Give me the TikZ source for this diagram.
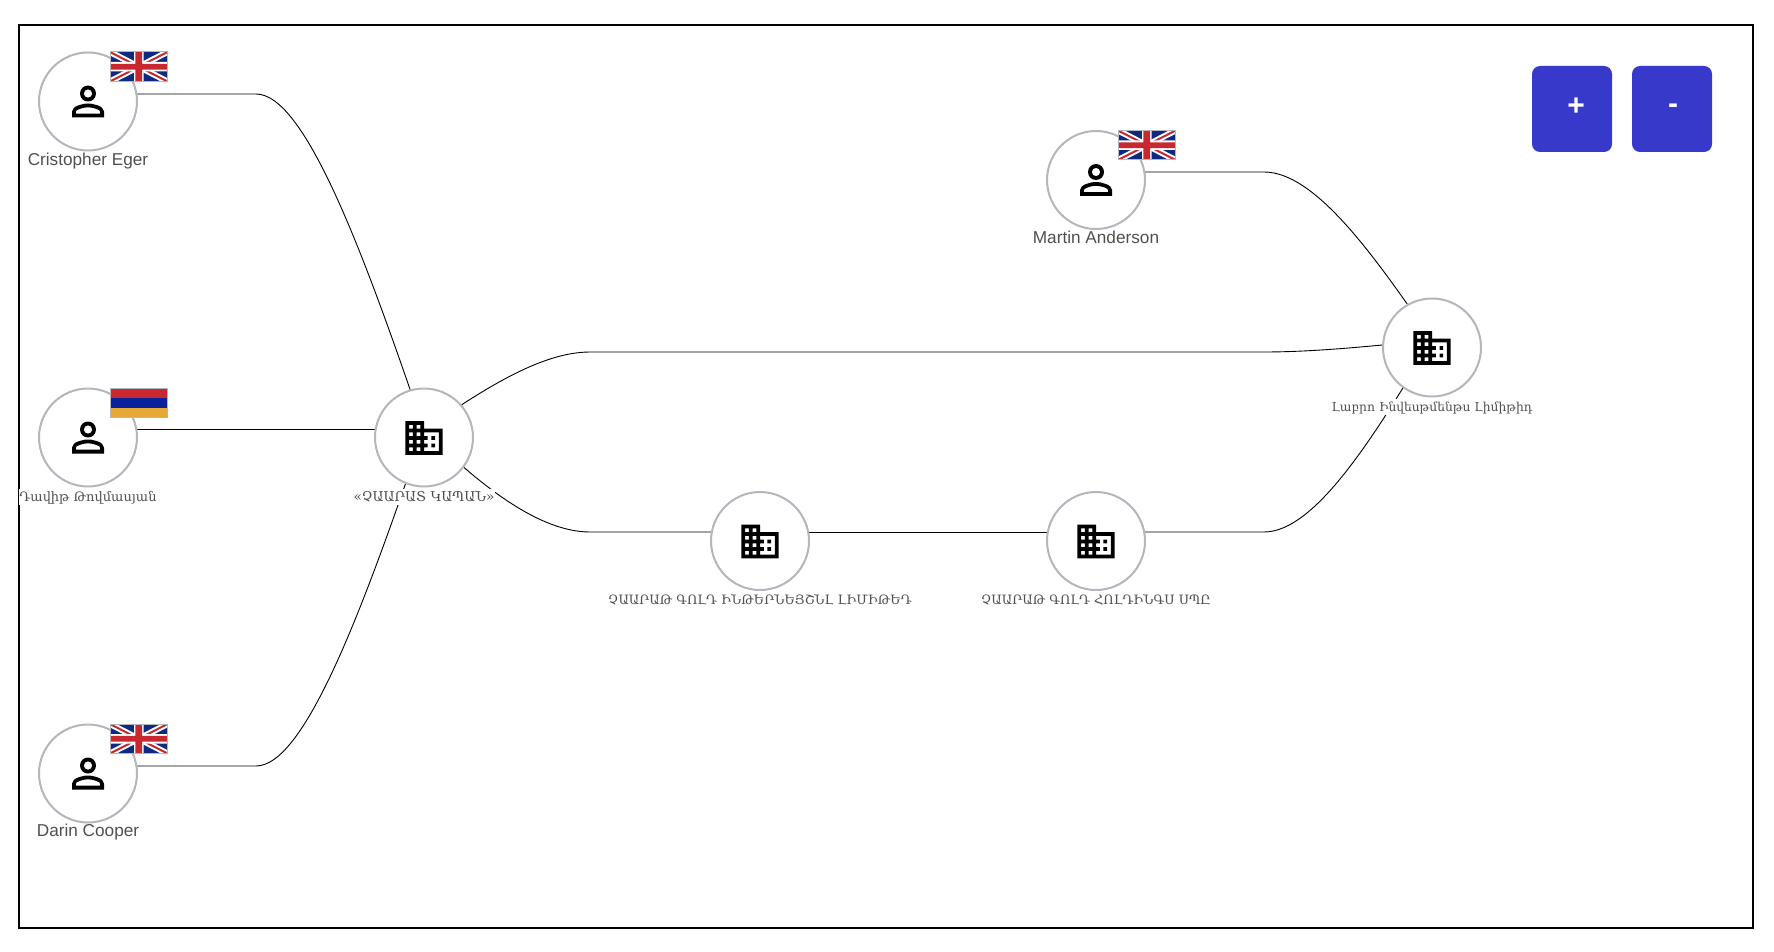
\documentclass[tikz,border=0pt]{standalone}
\usepackage{fontspec}
\setmainfont{Liberation Sans}
\newfontfamily\hyfont{DejaVu Serif}
\usetikzlibrary{backgrounds}
\definecolor{ringgray}{HTML}{B5B5BD}
\definecolor{btnblue}{HTML}{3639C9}
\definecolor{labelgray}{HTML}{505050}
\definecolor{ukblue}{HTML}{0B2A80}
\definecolor{ukred}{HTML}{C8282F}
\definecolor{amorange}{HTML}{E8A838}
\tikzset{
  x=1pt,y=-1pt,
  entity/.style={circle,draw=ringgray,line width=2pt,fill=white,minimum size=98pt,inner sep=0pt,outer sep=0pt},
  link/.style={draw=black,line width=0.9pt},
  lab/.style={fill=white,inner sep=0pt,text=labelgray,text height=12pt,text depth=4pt,anchor=center},
  latinlab/.style={lab,font=\fontsize{17.2}{20}\selectfont},
  hylab/.style={lab,font=\hyfont\fontsize{#1}{20}\selectfont},
  btn/.style={fill=btnblue,rounded corners=8pt,minimum width=80pt,minimum height=86pt,inner sep=0pt,text=white,font=\bfseries\fontsize{30}{30}\selectfont},
}
\newcommand{\personicon}[1]{%
  \begin{scope}[shift={(#1.center)},scale=2,shift={(-12,-12)}]
    \fill[black,even odd rule] (16,8) arc[start angle=0,end angle=360,radius=4] (14.1,8) arc[start angle=0,end angle=360,radius=2.1];
    \fill[black,even odd rule] (4,20) -- (4,17) .. controls (4,14.34) and (9.33,13) .. (12,13) .. controls (14.66,13) and (20,14.34) .. (20,17) -- (20,20) -- cycle
      (5.9,18.1) -- (5.9,17) .. controls (5.9,16.36) and (9.03,14.9) .. (12,14.9) .. controls (14.97,14.9) and (18.1,16.36) .. (18.1,17) -- (18.1,18.1) -- cycle;
  \end{scope}}
\newcommand{\buildingicon}[1]{%
  \begin{scope}[shift={(#1.center)},shift={(0,0.5)},scale=1.87,shift={(-12,-12)}]
    \fill[black,even odd rule] (2,3) -- (12,3) -- (12,7) -- (22,7) -- (22,21) -- (2,21) -- cycle
      (4,5) rectangle (6,7) (4,9) rectangle (6,11) (4,13) rectangle (6,15) (4,17) rectangle (6,19)
      (8,5) rectangle (10,7) (8,9) rectangle (10,11) (8,13) rectangle (10,15) (8,17) rectangle (10,19)
      (12,9) -- (20,9) -- (20,19) -- (12,19) -- (12,17) -- (14,17) -- (14,15) -- (12,15) -- (12,13) -- (14,13) -- (14,11) -- (12,11) -- cycle;
    \fill[black] (16,11) rectangle (18,13) (16,15) rectangle (18,17);
  \end{scope}}
\newcommand{\ukflag}[1]{%
  \begin{scope}[shift={(#1.center)},shift={(22,-49.5)}]
    \begin{scope}
      \clip (0,0) rectangle (57.5,29.5);
      \fill[ukblue] (0,0) rectangle (57.5,29.5);
      \draw[white,line width=6pt] (0,0) -- (57.5,29.5) (57.5,0) -- (0,29.5);
      \draw[ukred,line width=2pt] (0,0) -- (57.5,29.5) (57.5,0) -- (0,29.5);
      \fill[white] (24,0) rectangle (33.5,29.5) (0,10) rectangle (57.5,19.5);
      \fill[ukred] (25.3,0) rectangle (32.2,29.5) (0,11.8) rectangle (57.5,17.7);
    \end{scope}
    \draw[ringgray,line width=1pt] (0,0) rectangle (57.5,29.5);
  \end{scope}}
\newcommand{\amflag}[1]{%
  \begin{scope}[shift={(#1.center)},shift={(22,-49.5)}]
    \fill[ukred] (0,0) rectangle (57.5,10);
    \fill[ukblue!80!blue] (0,10) rectangle (57.5,19.7);
    \fill[amorange] (0,19.7) rectangle (57.5,29.5);
    \draw[ringgray,line width=1pt] (0,0) rectangle (57.5,29.5);
  \end{scope}}
\begin{document}
\begin{tikzpicture}
\useasboundingbox (0,0) rectangle (1774,952);
\draw[black,line width=2pt] (18.8,25.2) rectangle (1753,928.2);

\node[entity] (p1) at (88,101.5) {};
\node[entity] (p2) at (88,437.5) {};
\node[entity] (p3) at (88,773.5) {};
\node[entity] (p4) at (1096,180) {};
\node[entity] (c1) at (424,437.5) {};
\node[entity] (c2) at (760,541) {};
\node[entity] (c3) at (1096,541) {};
\node[entity] (c4) at (1432,347.5) {};

\begin{pgfonlayer}{background}
  \draw[link] ([yshift=7.5pt]p1.center) -- (256,94) .. controls (306,94) and (366,260) .. ([yshift=7.5pt]c1.center);
  \draw[link] ([yshift=8pt]p2.center) -- ([yshift=8pt]c1.center);
  \draw[link] ([yshift=7.5pt]p3.center) -- (256,766) .. controls (306,766) and (366,600) .. ([yshift=7.5pt]c1.center);
  \draw[link] ([yshift=8pt]p4.center) -- (1264,172) .. controls (1315,172) and (1374,255) .. ([yshift=7.5pt]c4.center);
  \draw[link] ([yshift=7.5pt]c1.center) .. controls (481,391) and (540,352) .. (590,352) -- (1264,352) .. controls (1315,352) and (1374,346) .. ([yshift=7.5pt]c4.center);
  \draw[link] ([yshift=7.5pt]c1.center) .. controls (481,487) and (540,532) .. (590,532) -- ([yshift=9pt]c2.center);
  \draw[link] ([yshift=9pt]c2.center) -- ([yshift=9pt]c3.center);
  \draw[link] ([yshift=9pt]c3.center) -- (1264,532) .. controls (1315,532) and (1374,437) .. ([yshift=7.5pt]c4.center);
\end{pgfonlayer}

\personicon{p1}\personicon{p2}\personicon{p3}\personicon{p4}
\buildingicon{c1}\buildingicon{c2}\buildingicon{c3}\buildingicon{c4}
\ukflag{p1}\amflag{p2}\ukflag{p3}\ukflag{p4}

\node[latinlab] (lp1) at ([yshift=-60.5pt]p1.center) {Cristopher Eger};
\node[hylab=13] (lp2) at ([yshift=-59.5pt]p2.center) {Դավիթ Թովմասյան};
\node[latinlab] (lp3) at ([yshift=-59pt]p3.center) {Darin Cooper};
\node[latinlab] (lp4) at ([yshift=-59pt]p4.center) {Martin Anderson};
\node[hylab=13.6] (lc1) at ([yshift=-59.5pt]c1.center) {«ՉԱԱՐԱՏ ԿԱՊԱՆ»};
\node[hylab=12.9] (lc2) at ([yshift=-59pt]c2.center) {ՉԱԱՐԱԹ ԳՈԼԴ ԻՆԹԵՐՆԵՅՇՆԼ ԼԻՄԻԹԵԴ};
\node[hylab=12.9] (lc3) at ([yshift=-59pt]c3.center) {ՉԱԱՐԱԹ ԳՈԼԴ ՀՈԼԴԻՆԳՍ ՍՊԸ};
\node[hylab=12.3] (lc4) at ([yshift=-59.5pt]c4.center) {Լաբրո Ինվեսթմենթս Լիմիթիդ};

\node[btn] (plus) at (1572,109) {\hspace*{8pt}\raisebox{4pt}{+}};
\node[btn] (minus) at (1672,109) {\hspace*{2pt}\raisebox{0pt}{-}};
\end{tikzpicture}
\end{document}
